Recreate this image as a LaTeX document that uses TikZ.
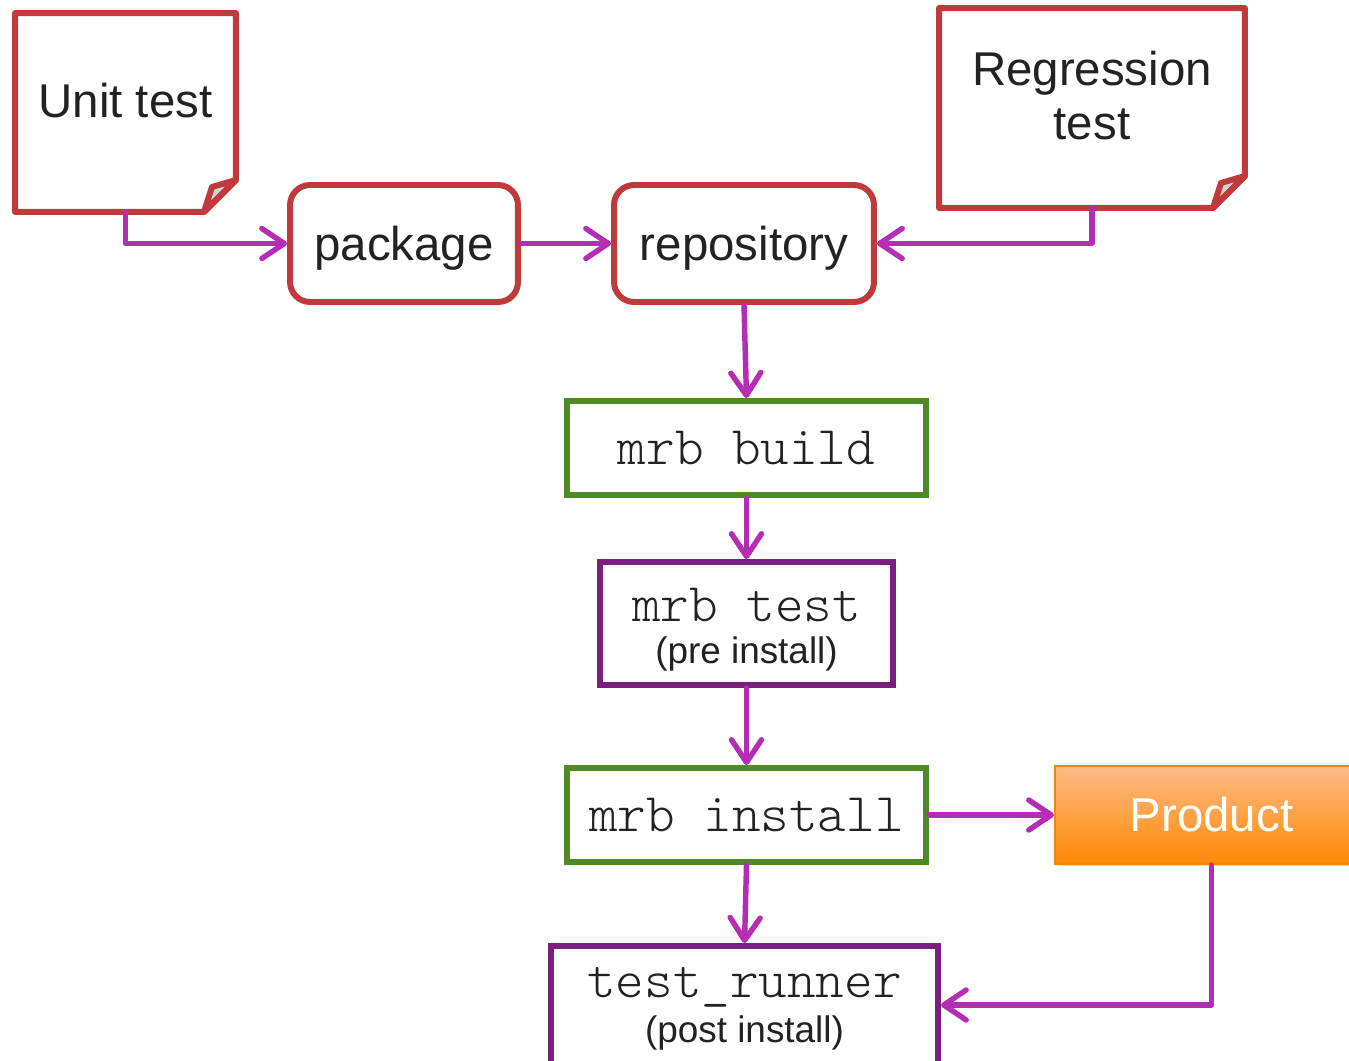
\documentclass[tikz,border=0pt]{standalone}
\usepackage{fontspec}
\setmainfont{Liberation Sans}
\newfontfamily\lighttt{Latin Modern Mono Light}
\usetikzlibrary{arrows.meta,shadows,backgrounds}

\definecolor{notered}{HTML}{C0393B}
\definecolor{flowpink}{HTML}{B52DB5}
\definecolor{stepgreen}{HTML}{4F8A26}
\definecolor{steppurple}{HTML}{7A1F7E}
\definecolor{prodtop}{HTML}{FFBB88}
\definecolor{prodbot}{HTML}{FF8800}
\definecolor{prodline}{HTML}{E88A10}
\definecolor{foldgray}{HTML}{D4D4D4}
\definecolor{inkgray}{HTML}{222222}

\newcommand{\mrbtt}[1]{{\lighttt\fontsize{31}{24}\selectfont #1}}

\begin{document}
\begin{tikzpicture}[x=0.02cm, y=-0.02cm,
    softshadow/.style={drop shadow={opacity=0.25, shadow xshift=0.05cm, shadow yshift=-0.05cm}},
    notetext/.style={font=\fontsize{27}{31}\selectfont, text=inkgray, align=center,
        inner sep=0pt, outer sep=1.7pt, text depth=0.5cm},
    notedraw/.style={draw=notered, line width=3.4pt, line join=round, fill=white},
    srcbox/.style={draw=notered, line width=3.4pt, rounded corners=0.4cm, fill=white, softshadow,
        text=inkgray, font=\fontsize{27}{31}\selectfont, minimum height=2.34cm, text depth=0pt},
    mrbbox/.style={draw=#1, line width=3.4pt, fill=white, softshadow, text=inkgray,
        align=center, font=\fontsize{21}{24}\selectfont},
    product/.style={draw=prodline, line width=1.2pt, top color=prodtop, bottom color=prodbot,
        softshadow, text=white, font=\fontsize{27}{31}\selectfont,
        minimum width=6.26cm, minimum height=1.96cm},
    flow/.style={draw=flowpink, line width=3.1pt, line cap=round, line join=round,
        -{Straight Barb[length=0.45cm, width=0.6cm, round]}}]

    \useasboundingbox (0,0) rectangle (1349,1061);

    % notes
    \node[notetext, minimum width=4.3cm, minimum height=3.86cm] (unit) at (125.5,112.5) {Unit test};
    \node[notetext, minimum width=6cm, minimum height=3.88cm] (regr) at (1092,108) {Regression\\test};

    % sources
    \node[srcbox, minimum width=4.56cm] (package) at (404,243.5) {package};
    \node[srcbox, minimum width=5.2cm] (repo) at (744,243.5) {repository};

    % mrb steps
    \node[mrbbox=stepgreen, minimum width=7.18cm, minimum height=1.88cm] (build) at (746.5,448) {\mrbtt{mrb build}};
    \node[mrbbox=steppurple, minimum width=5.86cm, minimum height=2.46cm, text height=46pt, text depth=0pt]
        (pretest) at (746.5,623.5) {\mrbtt{mrb test}\\(pre install)};
    \node[mrbbox=stepgreen, minimum width=7.18cm, minimum height=1.88cm] (install) at (746.5,815) {\mrbtt{mrb install}};
    \node[mrbbox=steppurple, minimum width=7.74cm, minimum height=2.36cm, text height=46pt, text depth=3pt]
        (runner) at (744.5,1005) {\mrbtt{test\_runner}\\[2pt](post install)};

    % product
    \node[product] (product) at (1211.5,815) {Product};

    % note outlines
    \begin{scope}[on background layer]
        \draw[notedraw, softshadow] (unit.north west) -- (unit.north east) -- ([yshift=0.64cm]unit.south east)
            -- ([xshift=-0.64cm]unit.south east) -- (unit.south west) -- cycle;
        \draw[notedraw, fill=foldgray] ([yshift=0.64cm]unit.south east) -- ([xshift=-0.48cm,yshift=0.5cm]unit.south east)
            -- ([xshift=-0.64cm]unit.south east) -- cycle;
        \draw[notedraw, softshadow] (regr.north west) -- (regr.north east) -- ([yshift=0.64cm]regr.south east)
            -- ([xshift=-0.64cm]regr.south east) -- (regr.south west) -- cycle;
        \draw[notedraw, fill=foldgray] ([yshift=0.64cm]regr.south east) -- ([xshift=-0.48cm,yshift=0.5cm]regr.south east)
            -- ([xshift=-0.64cm]regr.south east) -- cycle;
    \end{scope}

    % connectors
    \draw[flow] (unit.south) |- (package.west);
    \draw[flow] (package.east) -- (repo.west);
    \draw[flow] (regr.south) |- (repo.east);
    \draw[flow] (repo.south) -- (build.north);
    \draw[flow] (build.south) -- (pretest.north);
    \draw[flow] (pretest.south) -- (install.north);
    \draw[flow] (install.east) -- (product.west);
    \draw[flow] (install.south) -- (runner.north);
    \draw[flow] (product.south) |- (runner.east);
\end{tikzpicture}
\end{document}
